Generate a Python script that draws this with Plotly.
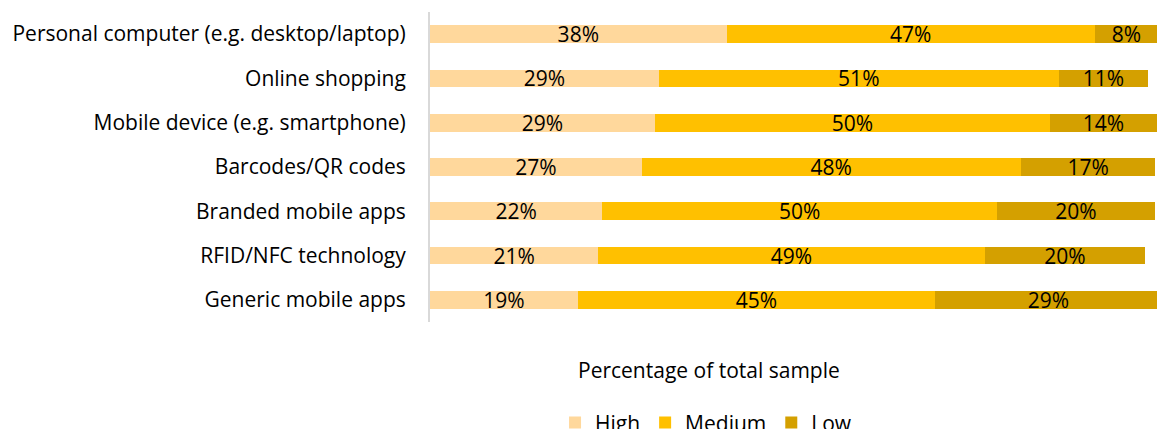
import plotly.graph_objects as go

categories = [
    "Personal computer (e.g. desktop/laptop)",
    "Online shopping",
    "Mobile device (e.g. smartphone)",
    "Barcodes/QR codes",
    "Branded mobile apps",
    "RFID/NFC technology",
    "Generic mobile apps",
]
high = [37.7, 29.1, 28.6, 26.9, 21.9, 21.4, 18.8]
medium = [46.8, 50.8, 50.2, 48.2, 50.2, 49.1, 45.4]
low = [8.0, 11.4, 13.6, 17.1, 20.0, 20.4, 28.8]

series = [("High", high, "#FFD89C"), ("Medium", medium, "#FFC000"), ("Low", low, "#D4A000")]

FONT = "Open Sans"
FS = 21
fig = go.Figure()
for name, vals, col in series:
    fig.add_trace(go.Bar(
        y=categories, x=vals, name=name, orientation="h",
        marker=dict(color=col, line=dict(width=0)),
        text=[f"{round(v):d}%" for v in vals],
        textposition="inside", insidetextanchor="middle",
        constraintext="none",
        textfont=dict(family=FONT, size=FS, color="#000000"),
        hoverinfo="skip",
    ))

fig.update_layout(
    barmode="stack", bargap=0.6,
    width=1157, height=429,
    margin=dict(l=430, r=0, t=12, b=107, autoexpand=False),
    plot_bgcolor="white", paper_bgcolor="white",
    font=dict(family=FONT, size=FS, color="#000000"),
    showlegend=True,
    legend=dict(orientation="h", x=0.172, xanchor="left", y=-0.325, yanchor="middle",
                traceorder="normal", font=dict(family=FONT, size=FS, color="#000000"),
                itemwidth=30),
    annotations=[dict(text="Percentage of total sample", xref="paper", yref="paper",
                      x=0.3838, y=-0.155, xanchor="center", yanchor="middle",
                      showarrow=False, font=dict(family=FONT, size=FS, color="#000000"))],
)
fig.update_xaxes(range=[0, 92.4], showticklabels=False, showgrid=False, zeroline=False,
                 showline=False, ticks="")
fig.update_yaxes(autorange="reversed", showgrid=False, zeroline=False,
                 showline=True, linecolor="#D9D9D9", linewidth=2, ticks="",
                 ticklabelstandoff=18, tickfont=dict(family=FONT, size=FS, color="#000000"))

fig.write_html("out.html", config={"displayModeBar": False},
               post_script="document.body.style.margin='0';")
